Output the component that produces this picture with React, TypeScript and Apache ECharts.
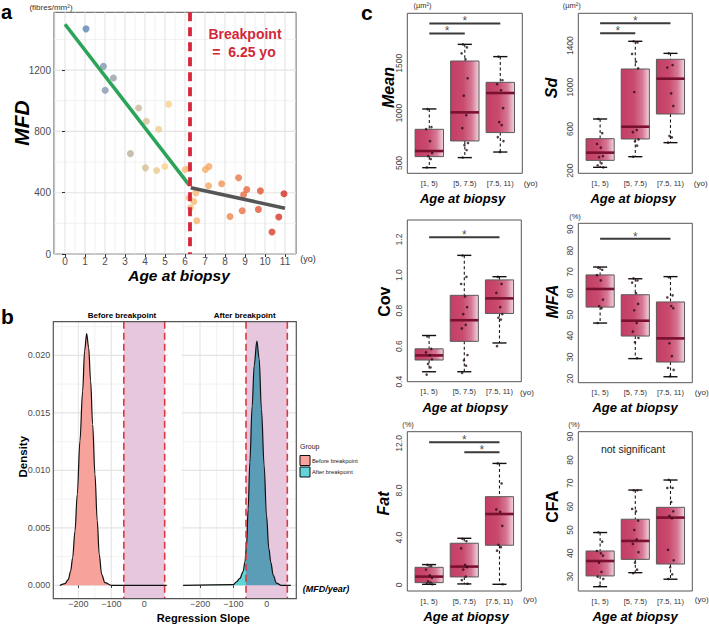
import React, { useEffect, useRef } from 'react';
import * as echarts from 'echarts';

const FONT = '"Liberation Sans", Arial, Helvetica, sans-serif';

// ---------------- Panel a : MFD vs age ----------------
const AGE_YEARS = [1.05, 1.92, 2.42, 2.01, 3.27, 3.68, 4.07, 4.68, 5.18, 4.02, 4.58, 4.99, 6.01, 6.19, 6.21, 6.27, 6.44, 6.54, 6.59, 7.02, 7.2, 7.18, 7.83, 8.25, 8.68, 8.86, 8.93, 9.09, 9.67, 9.77, 10.35, 10.69, 10.95];
const MFD_VALUES = [1469, 1224, 1148, 1068, 655, 953, 866, 814, 977, 562, 545, 571, 551, 558, 367, 302, 343, 399, 217, 551, 571, 445, 458, 245, 497, 282, 386, 421, 291, 412, 143, 241, 393];
const FIT_BEFORE_AGE = [0, 6.22];
const FIT_BEFORE_MFD = [1499, 448];
const FIT_AFTER_AGE = [6.29, 11];
const FIT_AFTER_MFD = [433, 298];
const BREAKPOINT_AGE = 6.25;
const A_X_TICKS = [0, 1, 2, 3, 4, 5, 6, 7, 8, 9, 10, 11];
const A_X_MINOR = [-0.5, 0.5, 1.5, 2.5, 3.5, 4.5, 5.5, 6.5, 7.5, 8.5, 9.5, 10.5, 11.5];
const A_Y_TICKS = [0, 400, 800, 1200];
const A_Y_MINOR = [200, 600, 1000, 1400];
const AGE_COLOURS = ['#5a86b9', '#aeaba0', '#f7d38b', '#f6ad69', '#e76b40', '#d42a22'];

// ---------------- Panel b : regression slope densities ----------------
const SLOPE_BEFORE_X = [-255.8, -240.7, -230.6, -223.4, -217.3, -210.3, -203.3, -195.2, -187, -181, -174.8, -168.8, -162.7, -156.6, -149.6, -142.6, -136.6, -129.3, -119.3, -99, 68];
const SLOPE_BEFORE_DENSITY = [0, 0.00015, 0.0005, 0.00125, 0.0024, 0.0047, 0.0079, 0.01255, 0.0169, 0.0204, 0.0219, 0.0207, 0.0178, 0.014, 0.00965, 0.0056, 0.0027, 0.00096, 0.00023, 0, 0];
const SLOPE_AFTER_X = [-250.7, -100.6, -90.6, -80.5, -70.6, -65.5, -60.5, -55.6, -50.5, -43.5, -37.5, -29.4, -22.5, -15.6, -7.5, -0.5, 6.6, 12.6, 19.5, 29.4, 44.4, 72.7];
const SLOPE_AFTER_DENSITY = [0, 0.00006, 0.0003, 0.0006, 0.0012, 0.002, 0.0034, 0.0066, 0.0107, 0.0156, 0.0191, 0.02125, 0.0197, 0.0153, 0.0104, 0.0061, 0.0032, 0.002, 0.0009, 0.0002, 0, 0];
const CREDIBLE_BAND = [-62, 62];
const B_X_TICKS = [-200, -100, 0];
const B_X_MINOR = [-250, -150, -50, 50];
const B_Y_TICKS = [0, 0.005, 0.01, 0.015, 0.02];
const B_Y_MINOR = [0.0025, 0.0075, 0.0125, 0.0175, 0.0225];

// ---------------- Panel c : boxplots ----------------
const AGE_GROUPS = ['[1, 5)', '[5, 7.5)', '[7.5, 11)'];
// [lower whisker, Q1, median, Q3, upper whisker]
const MEAN_BOX = [[453, 564, 620, 838, 1042], [554, 721, 1008, 1523, 1690], [610, 805, 1202, 1309, 1567]];
const MEAN_POINTS = [[1040, 860, 840, 720, 600, 570, 540, 455], [1690, 1660, 1600, 1540, 1350, 1175, 980, 850, 700, 680, 630, 555], [1567, 1330, 1290, 1230, 1050, 910, 880, 760, 720, 610]];
const MEAN_SIG = [[1, 3, 1900], [1, 2, 1800]];
const MEAN_TICKS = [500, 1000, 1500];

const SD_BOX = [[232, 299, 373, 507, 696], [334, 504, 622, 1176, 1442], [469, 744, 1083, 1269, 1326]];
const SD_POINTS = [[696, 560, 456, 421, 340, 330, 270, 250, 232], [1442, 1430, 1320, 1246, 1182, 955, 590, 570, 500, 480, 440, 334], [1326, 1214, 1190, 942, 821, 533, 520, 469]];
const SD_SIG = [[1, 3, 1615], [1, 2, 1520]];
const SD_TICKS = [200, 600, 1000, 1400];

const COV_BOX = [[0.456, 0.522, 0.548, 0.585, 0.66], [0.456, 0.627, 0.746, 0.886, 1.111], [0.618, 0.784, 0.869, 0.973, 0.991]];
const COV_POINTS = [[0.655, 0.585, 0.565, 0.548, 0.526, 0.5, 0.48, 0.44], [1.11, 0.99, 0.95, 0.88, 0.82, 0.78, 0.72, 0.7, 0.55, 0.52, 0.49, 0.45], [0.99, 0.95, 0.9, 0.82, 0.78, 0.76, 0.75, 0.6]];
const COV_SIG = [[1, 3, 1.213]];
const COV_TICKS = [0.4, 0.6, 0.8, 1.0, 1.2];

const MFA_BOX = [[46.0, 53.5, 62.0, 68.6, 72.3], [29.3, 39.9, 47.1, 59.3, 66.8], [20.8, 27.7, 38.8, 55.9, 67.8]];
const MFA_POINTS = [[72, 71, 68.5, 66, 57, 54, 53, 46], [67, 66, 65, 60, 55, 52, 46, 42, 39, 37, 29.5], [67.5, 59, 58, 54, 53, 36.5, 30.5, 25, 24, 21]];
const MFA_SIG = [[1, 3, 85.6]];
const MFA_TICKS = [20, 30, 40, 50, 60, 70, 80, 90];

const FAT_BOX = [[0.05, 0.19, 0.7, 1.49, 1.72], [0.08, 0.67, 1.55, 3.53, 3.95], [0.05, 3.36, 6.01, 7.48, 10.3]];
const FAT_POINTS = [[1.7, 1.6, 1.3, 0.8, 0.6, 0.3, 0.2, 0.1, 0.05], [3.9, 3.7, 3.1, 1.7, 1.5, 1.3, 0.7, 0.4, 0.1], [10.3, 8.6, 6.4, 6.2, 5.0, 3.4, 3.2, 2.9, 0.05]];
const FAT_SIG = [[1, 3, 12.09], [2, 3, 11.24]];
const FAT_TICKS = [0, 4, 8, 12];

const CFA_BOX = [[25.7, 30.3, 36.7, 41.0, 48.9], [31.7, 37.4, 45.3, 54.6, 67.1], [28.9, 35.4, 55.3, 59.7, 71.4]];
const CFA_POINTS = [[49, 45, 41, 40, 39, 36, 32, 30, 29, 26], [67, 67, 59, 58, 54, 50, 46, 44, 40.5, 36, 33, 31.5], [71.5, 68, 68, 62, 58, 56, 55, 41.5, 37, 34, 31, 29]];
const CFA_SIG: number[][] = [];
const CFA_TICKS = [30, 40, 50, 60, 70, 80, 90];

const JITTER = [-0.05, 0.06, -0.09, 0.02, 0.08, -0.03, 0.04, -0.07, 0.09, -0.01, 0.05, -0.06];

function zip(a: number[], b: number[]) {
  return a.map((v, i) => [v, b[i]]);
}

function gridLineRender(params: any, api: any) {
  const cs = params.coordSys;
  const orient = api.value(0);
  const v = api.value(1);
  const major = api.value(2);
  const style = { stroke: major ? '#e4e4e4' : '#efefef', lineWidth: major ? 1.1 : 0.8 };
  if (orient === 0) {
    const x = api.coord([v, 0])[0];
    return { type: 'line', shape: { x1: x, y1: cs.y, x2: x, y2: cs.y + cs.height }, style };
  }
  const y = api.coord([0, v])[1];
  return { type: 'line', shape: { x1: cs.x, y1: y, x2: cs.x + cs.width, y2: y }, style };
}

function gridItems(xMaj: number[], xMin: number[], yMaj: number[], yMin: number[]) {
  return [
    ...xMin.map((v) => [0, v, 0]),
    ...yMin.map((v) => [1, v, 0]),
    ...xMaj.map((v) => [0, v, 1]),
    ...yMaj.map((v) => [1, v, 1]),
  ];
}

function boxRender(params: any, api: any) {
  const x = api.value(0);
  const vals = [1, 2, 3, 4, 5].map((i) => api.value(i));
  const [pL, pQ1, pM, pQ3, pH] = vals.map((v) => api.coord([x, v]));
  const w = api.size([0.8, 0])[0];
  const cx = pL[0];
  const half = w / 2;
  const cap = w / 4;
  const dash = { stroke: '#1a1a1a', lineWidth: 1.1, lineDash: [3, 2.5] };
  const capStyle = { stroke: '#111', lineWidth: 1.4 };
  return {
    type: 'group',
    children: [
      { type: 'line', shape: { x1: cx, y1: pH[1], x2: cx, y2: pQ3[1] }, style: dash },
      { type: 'line', shape: { x1: cx, y1: pQ1[1], x2: cx, y2: pL[1] }, style: dash },
      { type: 'line', shape: { x1: cx - cap, y1: pH[1], x2: cx + cap, y2: pH[1] }, style: capStyle },
      { type: 'line', shape: { x1: cx - cap, y1: pL[1], x2: cx + cap, y2: pL[1] }, style: capStyle },
      {
        type: 'rect',
        shape: { x: cx - half, y: pQ3[1], width: w, height: pQ1[1] - pQ3[1] },
        style: {
          fill: new echarts.graphic.LinearGradient(0, 0, 1, 0, [
            { offset: 0, color: '#c33d64' },
            { offset: 0.45, color: '#c94b6e' },
            { offset: 0.75, color: '#d67896' },
            { offset: 1, color: '#f1d6de' },
          ]),
          stroke: '#5a5a5a',
          lineWidth: 1,
        },
      },
      { type: 'line', shape: { x1: cx - half, y1: pM[1], x2: cx + half, y2: pM[1] }, style: { stroke: '#7a1030', lineWidth: 2.6 } },
    ],
  };
}

type CPanel = {
  name: string;
  italic: boolean;
  box: number[][];
  points: number[][];
  sig: number[][];
  ticks: number[];
  fmt: (v: number) => string;
  min: number;
  max: number;
  grid: { left: number; top: number; width: number; height: number };
  title: [number, number];
  unit?: [string, number, number];
  yo: [number, number];
  age: [number, number];
};

const C_PANELS: CPanel[] = [
  { name: 'Mean', italic: true, box: MEAN_BOX, points: MEAN_POINTS, sig: MEAN_SIG, ticks: MEAN_TICKS, fmt: (v) => String(v), min: 396.7, max: 2001.5, grid: { left: 407.3, top: 13.3, width: 115, height: 160 }, title: [388, 87.5], unit: ['(µm²)', 422.5, 5.5], yo: [530.7, 183], age: [462.5, 198] },
  { name: 'Sd', italic: true, box: SD_BOX, points: SD_POINTS, sig: SD_SIG, ticks: SD_TICKS, fmt: (v) => String(v), min: 174.7, max: 1710.7, grid: { left: 578.3, top: 13.3, width: 114, height: 160 }, title: [551.7, 88], unit: ['(µm²)', 571.7, 5.5], yo: [700.7, 183], age: [633, 198] },
  { name: 'Cov', italic: false, box: COV_BOX, points: COV_POINTS, sig: COV_SIG, ticks: COV_TICKS, fmt: (v) => v.toFixed(1), min: 0.4, max: 1.31, grid: { left: 407.3, top: 220, width: 114, height: 161.7 }, title: [384, 301.7], yo: [527, 392.7], age: [465, 407.3] },
  { name: 'MFA', italic: true, box: MFA_BOX, points: MFA_POINTS, sig: MFA_SIG, ticks: MFA_TICKS, fmt: (v) => String(v), min: 18.0, max: 92.83, grid: { left: 578.3, top: 223.3, width: 114, height: 159.4 }, title: [552.5, 301.7], unit: ['(%)', 575, 216.7], yo: [701.7, 392.7], age: [635, 407.3] },
  { name: 'Fat', italic: true, box: FAT_BOX, points: FAT_POINTS, sig: FAT_SIG, ticks: FAT_TICKS, fmt: (v) => (v === 0 ? '0' : v.toFixed(1)), min: -0.52, max: 12.99, grid: { left: 407.3, top: 431.7, width: 114, height: 159.3 }, title: [383, 503.5], unit: ['(%)', 408, 424.3], yo: [530, 599.3], age: [466, 616.7] },
  { name: 'CFA', italic: false, box: CFA_BOX, points: CFA_POINTS, sig: CFA_SIG, ticks: CFA_TICKS, fmt: (v) => String(v), min: 23.85, max: 92.1, grid: { left: 578.3, top: 431.7, width: 114, height: 159.3 }, title: [552.5, 506.7], unit: ['(%)', 574, 424.3], yo: [701.7, 599.3], age: [635, 616.7] },
];

function txt(text: string, x: number, y: number, o: any = {}) {
  return {
    type: 'text',
    x,
    y,
    rotation: o.rotation || 0,
    z: 100,
    style: {
      text,
      fill: o.color || '#000',
      fontSize: o.size || 10,
      fontWeight: o.weight || 'normal',
      fontStyle: o.style || 'normal',
      fontFamily: FONT,
      align: o.align || 'center',
      verticalAlign: o.valign || 'middle',
    },
  };
}

function buildOption() {
  const grids: any[] = [];
  const xAxes: any[] = [];
  const yAxes: any[] = [];
  const series: any[] = [];
  const graphic: any[] = [];
  const minus = (v: number) => (v < 0 ? '\u2212' + Math.abs(v) : String(v));

  // ---------- Panel a ----------
  grids.push({ left: 54, top: 12.3, width: 242, height: 241.7, show: true, borderColor: '#555', borderWidth: 1, backgroundColor: 'transparent' });
  xAxes.push({
    gridIndex: 0, type: 'value', min: -0.55, max: 11.55,
    splitLine: { show: false }, axisLine: { show: false },
    axisTick: { show: true, customValues: A_X_TICKS, length: 3, lineStyle: { color: '#333' } },
    axisLabel: { customValues: A_X_TICKS, formatter: (v: number) => String(v), fontSize: 10, color: '#4d4d4d', margin: 2, fontFamily: FONT },
  });
  yAxes.push({
    gridIndex: 0, type: 'value', min: 0, max: 1577,
    splitLine: { show: false }, axisLine: { show: false },
    axisTick: { show: true, customValues: A_Y_TICKS, length: 3, lineStyle: { color: '#333' } },
    axisLabel: { customValues: A_Y_TICKS, formatter: (v: number) => String(v), fontSize: 10, color: '#4d4d4d', margin: 3, fontFamily: FONT },
  });
  series.push({ type: 'custom', xAxisIndex: 0, yAxisIndex: 0, silent: true, z: 0, renderItem: gridLineRender, data: gridItems(A_X_TICKS, A_X_MINOR, A_Y_TICKS, A_Y_MINOR) });
  const scatterAIndex = series.length;
  series.push({ type: 'scatter', xAxisIndex: 0, yAxisIndex: 0, data: zip(AGE_YEARS, MFD_VALUES), symbolSize: 7, z: 2 });
  series.push({ type: 'line', xAxisIndex: 0, yAxisIndex: 0, data: zip(FIT_BEFORE_AGE, FIT_BEFORE_MFD), symbol: 'none', lineStyle: { color: '#2ba358', width: 3.6 }, z: 3 });
  series.push({ type: 'line', xAxisIndex: 0, yAxisIndex: 0, data: zip(FIT_AFTER_AGE, FIT_AFTER_MFD), symbol: 'none', lineStyle: { color: '#555555', width: 3.6 }, z: 3 });
  series.push({
    type: 'custom', xAxisIndex: 0, yAxisIndex: 0, silent: true, z: 4, data: [[BREAKPOINT_AGE, 0]],
    renderItem: (params: any, api: any) => {
      const cs = params.coordSys;
      const x = api.coord([api.value(0), 0])[0];
      return { type: 'line', shape: { x1: x, y1: cs.y, x2: x, y2: cs.y + cs.height }, style: { stroke: '#d7263b', lineWidth: 3.8, lineDash: [9, 6] } };
    },
  });

  // ---------- Panel b ----------
  const bGrids = [
    { left: 53.3, width: 115, min: -276, max: 73, x: SLOPE_BEFORE_X, d: SLOPE_BEFORE_DENSITY, after: false },
    { left: 181.7, width: 114.6, min: -255, max: 89, x: SLOPE_AFTER_X, d: SLOPE_AFTER_DENSITY, after: true },
  ];
  let afterIndex = -1;
  bGrids.forEach((g, k) => {
    const gi = grids.length;
    grids.push({ left: g.left, top: 321.7, width: g.width, height: 277, show: false });
    xAxes.push({
      gridIndex: gi, type: 'value', min: g.min, max: g.max,
      splitLine: { show: false }, axisLine: { show: false },
      axisTick: { show: true, customValues: B_X_TICKS, length: 2.5, lineStyle: { color: '#333' } },
      axisLabel: { customValues: B_X_TICKS, fontSize: 9, color: '#4d4d4d', margin: 0.5, formatter: minus, fontFamily: FONT },
    });
    yAxes.push({
      gridIndex: gi, type: 'value', min: -0.00116, max: 0.02293,
      splitLine: { show: false }, axisLine: { show: false },
      axisTick: { show: k === 0, customValues: B_Y_TICKS, length: 3, lineStyle: { color: '#333' } },
      axisLabel: { show: k === 0, customValues: B_Y_TICKS, fontSize: 9, color: '#4d4d4d', margin: 3, formatter: (v: number) => v.toFixed(3), fontFamily: FONT },
    });
    series.push({ type: 'custom', xAxisIndex: gi, yAxisIndex: gi, silent: true, z: 0, renderItem: gridLineRender, data: gridItems(B_X_TICKS, B_X_MINOR, B_Y_TICKS, B_Y_MINOR) });
    series.push({
      type: 'custom', xAxisIndex: gi, yAxisIndex: gi, silent: true, z: 1, data: [[CREDIBLE_BAND[0], CREDIBLE_BAND[1]]],
      renderItem: (params: any, api: any) => {
        const cs = params.coordSys;
        const x0 = api.coord([api.value(0), 0])[0];
        const x1 = api.coord([api.value(1), 0])[0];
        return { type: 'rect', shape: { x: x0, y: cs.y, width: x1 - x0, height: cs.height }, style: { fill: '#e6c7de' } };
      },
    });
    if (g.after) afterIndex = series.length;
    series.push({
      type: 'line', xAxisIndex: gi, yAxisIndex: gi, data: zip(g.x, g.d), symbol: 'none', smooth: 0.35, smoothMonotone: 'x',
      lineStyle: { color: '#111', width: 1.2 },
      areaStyle: g.after ? { opacity: 1 } : { color: '#f7a39b', opacity: 1 },
      z: 3,
    });
    series.push({
      type: 'custom', xAxisIndex: gi, yAxisIndex: gi, silent: true, z: 5, data: [[CREDIBLE_BAND[0], CREDIBLE_BAND[1]]],
      renderItem: (params: any, api: any) => {
        const cs = params.coordSys;
        const style = { stroke: '#e2363e', lineWidth: 1.6, lineDash: [7, 4] };
        return {
          type: 'group',
          children: [0, 1].map((i) => {
            const x = api.coord([api.value(i), 0])[0];
            return { type: 'line', shape: { x1: x, y1: cs.y, x2: x, y2: cs.y + cs.height }, style };
          }),
        };
      },
    });
  });
  graphic.push({ type: 'rect', z: 50, shape: { x: 53.3, y: 321.7, width: 243, height: 277 }, style: { fill: 'none', stroke: '#555', lineWidth: 1.2 } });

  // ---------- Panel c ----------
  C_PANELS.forEach((p) => {
    const gi = grids.length;
    grids.push({ ...p.grid, show: true, borderColor: '#555', borderWidth: 1, backgroundColor: 'transparent' });
    xAxes.push({
      gridIndex: gi, type: 'value', min: 0.38, max: 3.62,
      splitLine: { show: false }, axisLine: { show: false }, axisTick: { show: false },
      axisLabel: { customValues: [1, 2, 3], formatter: (v: number) => AGE_GROUPS[Math.round(v) - 1], fontSize: 7.5, color: '#333', margin: 6, fontFamily: FONT },
    });
    yAxes.push({
      gridIndex: gi, type: 'value', min: p.min, max: p.max,
      splitLine: { show: false }, axisLine: { show: false }, axisTick: { show: false },
      axisLabel: { customValues: p.ticks, rotate: 90, formatter: p.fmt, fontSize: 8.5, color: '#444', margin: 4, fontFamily: FONT },
    });
    series.push({
      type: 'custom', xAxisIndex: gi, yAxisIndex: gi, z: 2, silent: true, renderItem: boxRender,
      encode: { x: 0, y: [1, 2, 3, 4, 5] },
      data: p.box.map((s, i) => [i + 1, ...s]),
    });
    const pts: number[][] = [];
    p.points.forEach((arr, g) => arr.forEach((v, i) => pts.push([g + 1 + JITTER[i % JITTER.length], v])));
    series.push({ type: 'scatter', xAxisIndex: gi, yAxisIndex: gi, z: 3, silent: true, symbolSize: 2.6, itemStyle: { color: '#2b0d17' }, data: pts });
    p.sig.forEach((s) => {
      series.push({ type: 'line', xAxisIndex: gi, yAxisIndex: gi, z: 3, silent: true, symbol: 'none', lineStyle: { color: '#3a3a3a', width: 2 }, data: [[s[0], s[2]], [s[1], s[2]]] });
      series.push({
        type: 'scatter', xAxisIndex: gi, yAxisIndex: gi, z: 4, silent: true, symbolSize: 1, itemStyle: { color: 'rgba(0,0,0,0)' },
        label: { show: true, formatter: '*', position: 'inside', offset: [0, -2], fontSize: 12, color: '#222', fontFamily: FONT },
        data: [[(s[0] + s[1]) / 2, s[2]]],
      });
    });
    graphic.push(txt(p.name, p.title[0], p.title[1], { rotation: Math.PI / 2, size: 16, weight: 'bold', style: p.italic ? 'italic' : 'normal' }));
    if (p.unit) graphic.push(txt(p.unit[0], p.unit[1], p.unit[2], { size: 7.5, color: '#333' }));
    graphic.push(txt('(yo)', p.yo[0], p.yo[1], { size: 8, color: '#333' }));
    graphic.push(txt('Age at biopsy', p.age[0], p.age[1], { size: 13, weight: 'bold', style: 'italic' }));
  });

  // ---------- texts ----------
  graphic.push(txt('a', 1, 11.5, { size: 20, weight: 'bold', align: 'left' }));
  graphic.push(txt('b', 1, 316, { size: 21, weight: 'bold', align: 'left' }));
  graphic.push(txt('c', 361, 12.5, { size: 21, weight: 'bold', align: 'left' }));
  graphic.push(txt('(fibres/mm²)', 51, 7, { size: 8, color: '#333' }));
  graphic.push(txt('MFD', 21, 123, { rotation: Math.PI / 2, size: 21, weight: 'bold', style: 'italic' }));
  graphic.push(txt('Age at biopsy', 179, 275, { size: 15.5, weight: 'bold', style: 'italic' }));
  graphic.push(txt('(yo)', 308, 259.3, { size: 9, color: '#333' }));
  graphic.push(txt('Breakpoint', 245, 34, { size: 14, weight: 'bold', color: '#d0283a' }));
  graphic.push(txt('=  6.25 yo', 244, 52, { size: 14, weight: 'bold', color: '#d0283a' }));

  graphic.push(txt('Before breakpoint', 122, 315, { size: 8, weight: 'bold' }));
  graphic.push(txt('After breakpoint', 244.7, 315, { size: 8, weight: 'bold' }));
  graphic.push(txt('Density', 22.5, 456.7, { rotation: Math.PI / 2, size: 11.5, weight: 'bold' }));
  graphic.push(txt('Regression Slope', 203.3, 617.5, { size: 11, weight: 'bold' }));
  graphic.push(txt('(MFD/year)', 326, 588.5, { size: 9, weight: 'bold', style: 'italic' }));
  graphic.push(txt('Group', 300, 446, { size: 7, color: '#222', align: 'left' }));
  graphic.push({ type: 'rect', z: 100, shape: { x: 300, y: 455.5, width: 10, height: 10 }, style: { fill: '#f7a39b', stroke: '#111', lineWidth: 1 } });
  graphic.push({ type: 'rect', z: 100, shape: { x: 300, y: 467, width: 10, height: 10 }, style: { fill: '#62d4d8', stroke: '#111', lineWidth: 1 } });
  graphic.push(txt('Before breakpoint', 312, 460.5, { size: 5.8, color: '#222', align: 'left' }));
  graphic.push(txt('After breakpoint', 312, 472, { size: 5.8, color: '#222', align: 'left' }));
  graphic.push(txt('not significant', 633, 449, { size: 10.5, color: '#222' }));

  return {
    animation: false,
    backgroundColor: '#ffffff',
    textStyle: { fontFamily: FONT },
    grid: grids,
    xAxis: xAxes,
    yAxis: yAxes,
    series,
    graphic,
    visualMap: [
      { type: 'continuous', show: false, seriesIndex: scatterAIndex, dimension: 0, min: 1, max: 11, inRange: { color: AGE_COLOURS } },
      {
        type: 'piecewise', show: false, seriesIndex: afterIndex, dimension: 0,
        pieces: [
          { min: -400, max: CREDIBLE_BAND[0], color: '#62d4d8' },
          { min: CREDIBLE_BAND[0], max: 400, color: '#5b9db7' },
        ],
      },
    ],
  };
}

export default function App() {
  const ref = useRef<HTMLDivElement>(null);
  useEffect(() => {
    const el = ref.current;
    if (!el) return;
    const chart = echarts.init(el, undefined, { renderer: 'svg' });
    chart.setOption(buildOption() as any);
    return () => chart.dispose();
  }, []);
  return <div ref={ref} style={{ position: 'fixed', left: 0, top: 0, width: 709, height: 624, background: '#fff' }} />;
}
